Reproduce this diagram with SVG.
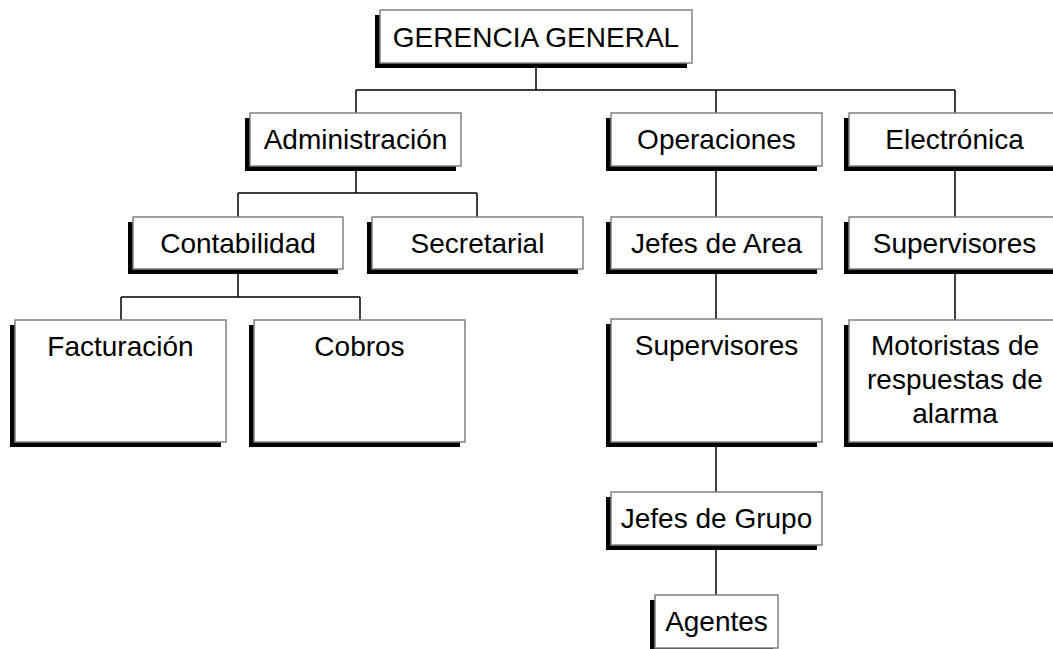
<svg xmlns="http://www.w3.org/2000/svg" width="1053" height="649" viewBox="0 0 1053 649">
<style>
.sh{fill:#000}
.bx{fill:#fff;stroke:#808080;stroke-width:1.5}
.t{font-family:"Liberation Sans",Arial,sans-serif;font-size:28px;fill:#000;text-anchor:middle}
.c{stroke:#000;stroke-width:1.5;fill:none}
</style>
<rect width="1053" height="649" fill="#fff"/>
<g id="connectors">
<path class="c" d="M536,63V90M356,90H955M356,90V113M716,90V113M955,90V113"/>
<path class="c" d="M356,166V193M238,193H477M238,193V217M477,193V217"/>
<path class="c" d="M238,268V297M121,297H360M121,297V320M360,297V320"/>
<path class="c" d="M716,166V217M716,269V319M716,442V492M716,545V595"/>
<path class="c" d="M955,166V217M955,269V320"/>
</g>
<g id="gerencia"><rect class="sh" x="375" y="15" width="312" height="53"/><rect class="bx" x="380" y="10" width="312" height="53"/><text class="t" x="536" y="47">GERENCIA GENERAL</text></g>
<g id="administracion"><rect class="sh" x="245" y="118" width="211" height="53"/><rect class="bx" x="250" y="113" width="211" height="53"/><text class="t" x="355.5" y="149">Administración</text></g>
<g id="operaciones"><rect class="sh" x="606" y="118" width="211" height="53"/><rect class="bx" x="611" y="113" width="211" height="53"/><text class="t" x="716.5" y="149">Operaciones</text></g>
<g id="electronica"><rect class="sh" x="844" y="118" width="211" height="53"/><rect class="bx" x="849" y="113" width="211" height="53"/><text class="t" x="954.5" y="149">Electrónica</text></g>
<g id="contabilidad"><rect class="sh" x="128" y="222" width="210" height="52"/><rect class="bx" x="133" y="217" width="210" height="52"/><text class="t" x="238" y="253">Contabilidad</text></g>
<g id="secretarial"><rect class="sh" x="367" y="222" width="211" height="52"/><rect class="bx" x="372" y="217" width="211" height="52"/><text class="t" x="477.5" y="253">Secretarial</text></g>
<g id="jefes-area"><rect class="sh" x="606" y="222" width="211" height="52"/><rect class="bx" x="611" y="217" width="211" height="52"/><text class="t" x="716.5" y="253">Jefes de Area</text></g>
<g id="supervisores-elec"><rect class="sh" x="844" y="222" width="211" height="52"/><rect class="bx" x="849" y="217" width="211" height="52"/><text class="t" x="954.5" y="253">Supervisores</text></g>
<g id="facturacion"><rect class="sh" x="10" y="325" width="211" height="122"/><rect class="bx" x="15" y="320" width="211" height="122"/><text class="t" x="120.5" y="356">Facturación</text></g>
<g id="cobros"><rect class="sh" x="249" y="325" width="211" height="122"/><rect class="bx" x="254" y="320" width="211" height="122"/><text class="t" x="359.5" y="356">Cobros</text></g>
<g id="supervisores-op"><rect class="sh" x="606" y="324" width="211" height="123"/><rect class="bx" x="611" y="319" width="211" height="123"/><text class="t" x="716.5" y="355">Supervisores</text></g>
<g id="motoristas"><rect class="sh" x="844" y="325" width="211" height="122"/><rect class="bx" x="849" y="320" width="211" height="122"/><text class="t" x="955" y="355">Motoristas de</text><text class="t" x="955" y="389">respuestas de</text><text class="t" x="955" y="423">alarma</text></g>
<g id="jefes-grupo"><rect class="sh" x="606" y="497" width="211" height="53"/><rect class="bx" x="611" y="492" width="211" height="53"/><text class="t" x="716.5" y="528">Jefes de Grupo</text></g>
<g id="agentes"><rect class="sh" x="650" y="600" width="123" height="53"/><rect class="bx" x="655" y="595" width="123" height="53"/><text class="t" x="716.5" y="631">Agentes</text></g>
</svg>
